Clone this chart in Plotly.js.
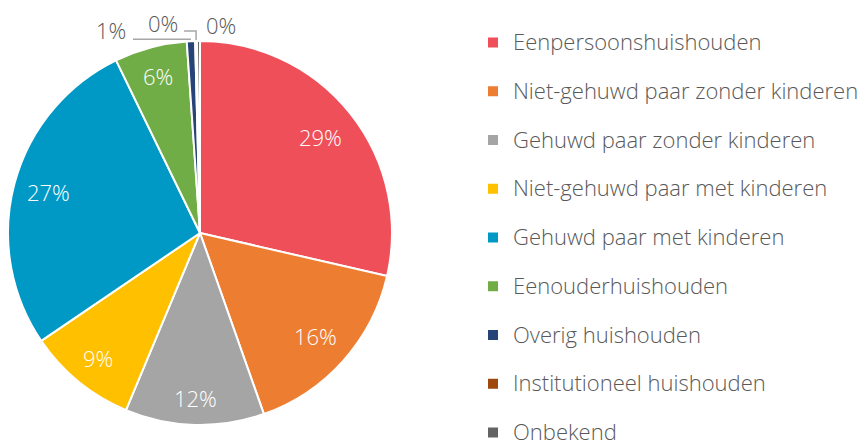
<!DOCTYPE html>
<html>
<head>
<meta charset="utf-8">
<script src="https://cdn.plot.ly/plotly-3.0.1.min.js"></script>
<style>html,body{margin:0;padding:0;background:#fff;}#chart{width:865px;height:444px;}</style>
</head>
<body>
<div id="chart"></div>
<script>
const categories = [
  "Eenpersoonshuishouden",
  "Niet-gehuwd paar zonder kinderen",
  "Gehuwd paar zonder kinderen",
  "Niet-gehuwd paar met kinderen",
  "Gehuwd paar met kinderen",
  "Eenouderhuishouden",
  "Overig huishouden",
  "Institutioneel huishouden",
  "Onbekend"
];
const shares = [28.6, 16.0, 11.7, 9.2, 27.3, 6.1, 0.7, 0.15, 0.25];
const colors = ["#EF4F58", "#ED7D31", "#A5A5A5", "#FFC000", "#0099C6", "#70AD47", "#264478", "#9E480E", "#636363"];

const W = 865, H = 444;
const FONT = "'Open Sans', sans-serif";
const TEXTGRAY = "#595959";
// pie geometry (pixels) -> domain
const PIE = {cx: 200, cy: 233, r: 192};
const domain = {
  x: [(PIE.cx - PIE.r) / W, (PIE.cx + PIE.r) / W],
  y: [1 - (PIE.cy + PIE.r) / H, 1 - (PIE.cy - PIE.r) / H]
};
const total = shares.reduce((a, b) => a + b, 0);
const SMALL = 2; // slices below this share get outside labels
// label placement styles: radial fraction for inside labels
const insideRadius = [0.80, 0.805, 0.862, 0.842, 0.819, 0.849];
// outside labels: pixel offsets of label centre from slice edge, and leader elbows
const outsideStyle = {
  6: {dx: -80, dy: -11, line: [[0, -2], [-58, -2]]},
  7: {dx: -33, dy: -18, line: [[0, -1], [0, -10], [-12, -10]]},
  8: {dx: 22.5, dy: -16, line: null}
};

const fmt = v => Math.round(v / total * 100) + "%";

const trace = {
  type: "pie",
  labels: categories.map(c => '<span style="font-size:22px;baseline-shift:6px">' + c + '</span>'),
  values: shares,
  sort: false,
  direction: "clockwise",
  rotation: 0,
  marker: {colors: colors, line: {color: "#ffffff", width: 2}},
  textinfo: "none",
  hoverinfo: "skip",
  domain: domain,
  automargin: false
};

const annotations = [], shapes = [];
let cum = 0;
const toPaper = (px, py) => [px / W, 1 - py / H];
shares.forEach((v, i) => {
  const mid = (cum + v / 2) / total * 2 * Math.PI;
  cum += v;
  if (v >= SMALL) {
    const f = insideRadius[i];
    const [px, py] = toPaper(PIE.cx + f * PIE.r * Math.sin(mid), PIE.cy - f * PIE.r * Math.cos(mid));
    annotations.push({
      x: px, y: py, xref: "paper", yref: "paper", showarrow: false,
      xanchor: "center", yanchor: "middle",
      text: fmt(v),
      font: {family: FONT, size: 22, color: "#ffffff", weight: 300}
    });
    return;
  }
  const ex = PIE.cx + PIE.r * Math.sin(mid);
  const ey = PIE.cy - PIE.r * Math.cos(mid);
  const st = outsideStyle[i];
  const [ax, ay] = toPaper(ex, ey);
  annotations.push({
    x: ax, y: ay, xref: "paper", yref: "paper", showarrow: false,
    xanchor: "center", yanchor: "middle",
    text: fmt(v), xshift: st.dx, yshift: -st.dy,
    font: {family: FONT, size: 22, color: TEXTGRAY, weight: 300}
  });
  if (st.line) {
    const pts = st.line.map(([dx, dy]) => toPaper(ex + dx, ey + dy));
    const path = pts.map((p, k) => (k ? "L" : "M") + p[0] + "," + p[1]).join(" ");
    shapes.push({type: "path", xref: "paper", yref: "paper", path: path,
      line: {color: "#A6A6A6", width: 1.5}});
  }
});

const layout = {
  width: W, height: H,
  margin: {l: 0, r: 0, t: 0, b: 0, autoexpand: false},
  paper_bgcolor: "#ffffff",
  showlegend: true,
  legend: {
    x: 473 / W, xanchor: "left", y: 1 - 13 / H, yanchor: "top",
    font: {family: FONT, size: 35.2, color: TEXTGRAY, weight: 300},
    bgcolor: "rgba(0,0,0,0)"
  },
  annotations: annotations,
  shapes: shapes
};
Plotly.newPlot("chart", [trace], layout, {staticPlot: true});
</script>
</body>
</html>
